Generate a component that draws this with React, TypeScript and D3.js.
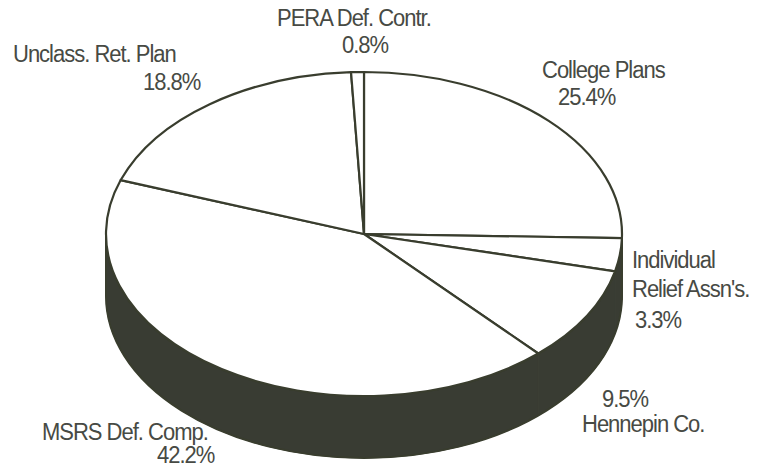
import React, { useRef, useEffect } from 'react';
import * as d3 from 'd3';

// slice names and shares (percent), clockwise from 12 o'clock
const categories = [
  'College Plans',
  "Individual Relief Assn's.",
  'Hennepin Co.',
  'MSRS Def. Comp.',
  'Unclass. Ret. Plan',
  'PERA Def. Contr.',
];
const shares = [25.4, 3.3, 9.5, 42.2, 18.8, 0.8];

// label lines per slice (text only)
const labelLines = [
  ['College Plans', '25.4%'],
  ['Individual', "Relief Assn's.", '3.3%'],
  ['9.5%', 'Hennepin Co.'],
  ['MSRS Def. Comp.', '42.2%'],
  ['Unclass. Ret. Plan', '18.8%'],
  ['PERA Def. Contr.', '0.8%'],
];

// where each label line sits (left x, baseline y)
const labelSpots = [
  [[542, 78], [558, 105]],
  [[632, 268], [632, 297], [635, 328]],
  [[602, 407], [582, 432]],
  [[42, 440], [157, 463]],
  [[13, 62], [143, 90]],
  [[277, 26], [342, 53]],
];

const W = 764, H = 469;
const cx = 364, cy = 234, rx = 258, ry = 162, depth = 62;
const lineColor = '#393d2e';
const sideColor = '#393c33';
const textColor = '#474a44';

export default function App() {
  const svgRef = useRef<SVGSVGElement>(null);

  useEffect(() => {
    draw(svgRef.current);
  }, []);

  return (
    <svg ref={svgRef} width={W} height={H}
      style={{ position: 'absolute', left: 0, top: 0, background: '#fff' }} />
  );
}

function draw(node: SVGSVGElement | null) {
  if (!node) return;
  const svg = d3.select(node);
  svg.selectAll('*').remove();

  const data = categories.map((c, i) => ({ name: c, value: shares[i] }));
  const arcs = d3.pie<any>().sort(null).value(d => d.value).startAngle(0).endAngle(2 * Math.PI)(data);

  const top = (a: number) => [cx + rx * Math.sin(a), cy - ry * Math.cos(a)];
  const bot = (a: number) => [cx + rx * Math.sin(a), cy - ry * Math.cos(a) + depth];

  const sidePath = (a0: number, a1: number) => {
    const p0 = top(a0), p1 = top(a1), q1 = bot(a1), q0 = bot(a0);
    const large = a1 - a0 > Math.PI ? 1 : 0;
    return `M${p0}A${rx},${ry} 0 ${large} 1 ${p1}L${q1}A${rx},${ry} 0 ${large} 0 ${q0}Z`;
  };

  // side wall, only the front half (between 3 and 9 o'clock) is visible
  const sides = arcs
    .map(d => {
      const a0 = Math.max(d.startAngle, Math.PI / 2);
      const a1 = Math.min(d.endAngle, 3 * Math.PI / 2);
      return a1 > a0 ? [a0, a1] : null;
    })
    .filter(Boolean) as number[][];

  svg.append('g')
    .selectAll('path')
    .data(sides)
    .enter().append('path')
    .attr('d', ([a0, a1]) => sidePath(a0, a1))
    .attr('fill', sideColor)
    .attr('stroke', sideColor)
    .attr('stroke-width', 1);

  // outline of the whole wall
  svg.append('path')
    .attr('d', sidePath(Math.PI / 2, 3 * Math.PI / 2))
    .attr('fill', 'none')
    .attr('stroke', lineColor)
    .attr('stroke-width', 2);

  // top face
  svg.append('g')
    .selectAll('path')
    .data(arcs)
    .enter().append('path')
    .attr('d', d => {
      const p0 = top(d.startAngle), p1 = top(d.endAngle);
      const large = d.endAngle - d.startAngle > Math.PI ? 1 : 0;
      return `M${cx},${cy}L${p0}A${rx},${ry} 0 ${large} 1 ${p1}Z`;
    })
    .attr('fill', '#fff')
    .attr('stroke', lineColor)
    .attr('stroke-width', 2.2)
    .attr('stroke-linejoin', 'round');

  // labels
  const g = svg.append('g')
    .attr('font-family', 'Arial, "Liberation Sans", sans-serif')
    .attr('font-size', 22)
    .attr('letter-spacing', -1)
    .attr('fill', textColor);

  labelLines.forEach((lines, i) => {
    lines.forEach((t, j) => {
      const [x, y] = labelSpots[i][j];
      g.append('text')
        .attr('transform', `translate(${x},${y}) scale(1,1.07)`)
        .text(t);
    });
  });
}
